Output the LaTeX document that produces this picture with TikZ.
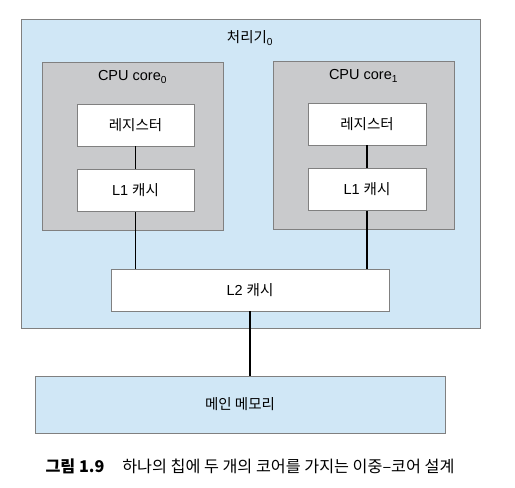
\documentclass[tikz,border=0pt]{standalone}
\usepackage{fontspec}
\setmainfont{Liberation Sans}
\newfontfamily\kr{Noto Sans CJK KR}
\usetikzlibrary{calc}

\definecolor{chipblue}{RGB}{208,231,246}
\definecolor{coregray}{RGB}{201,202,204}
\definecolor{edgegray}{RGB}{128,128,128}

\tikzset{
    chip/.style={draw=edgegray, fill=chipblue, line width=0.8pt, inner sep=0pt},
    corebox/.style={draw=edgegray, fill=coregray, line width=0.8pt, inner sep=0pt,
        minimum width=181pt, minimum height=168pt},
    unit/.style={draw=edgegray, fill=white, line width=0.8pt, inner sep=0pt,
        minimum height=42pt},
    bus/.style={line width=1.2pt}
}

\begin{document}
\begin{tikzpicture}[x=1pt, y=-1pt, font=\fontsize{14.5}{16}\selectfont]
    \useasboundingbox (0,0) rectangle (515,488);

    % processor and the two cores
    \node[chip, minimum width=459pt, minimum height=309pt] (proc) at (250.5,173.5) {};
    \node (procname) at (250,38) {{\kr 처리기}\textsubscript{0}};

    \node[corebox] (core0) at (132.5,146) {};
    \node[corebox] (core1) at (363.5,145) {};
    \node (corename0) at (132.5,77) {CPU core\textsubscript{0}};
    \node (corename1) at (363.5,76) {CPU core\textsubscript{1}};

    \node[unit, minimum width=117pt] (reg0) at (135.5,125) {\kr 레지스터};
    \node[unit, minimum width=117pt] (cache0) at (135.5,190.5) {L1 {\kr 캐시}};
    \node[unit, minimum width=118pt] (reg1) at (367,124) {\kr 레지스터};
    \node[unit, minimum width=118pt] (cache1) at (367,189.5) {L1 {\kr 캐시}};

    \node[unit, minimum width=278pt] (shared) at (250,290) {L2 {\kr 캐시}};

    \node[chip, minimum width=410pt, minimum height=57pt] (mem) at (240,404.5) {\kr 메인 메모리};

    % connectors
    \draw[bus] (reg0) -- (cache0);
    \draw[bus] (reg1) -- (cache1);
    \draw[bus] (cache0.south) -- (cache0.south |- shared.north);
    \draw[bus] (cache1.south) -- (cache1.south |- shared.north);
    \draw[bus] (shared.south) -- (shared.south |- mem.north);

    \node (caption) at (250,466) {\fontsize{16.2}{18}\selectfont\kr\textbf{그림 1.9}\hspace{1.1em}하나의 칩에 두 개의 코어를 가지는 이중–코어 설계};
\end{tikzpicture}
\end{document}
